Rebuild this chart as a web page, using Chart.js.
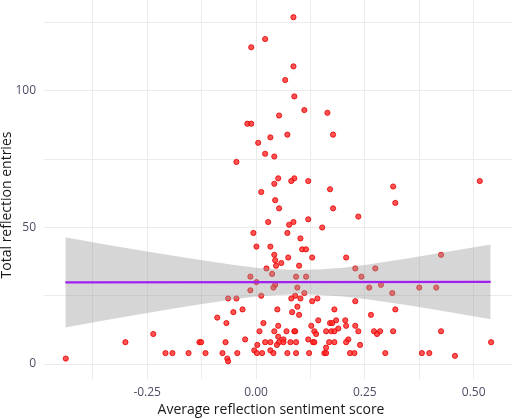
<!DOCTYPE html>
<html>
<head>
<meta charset="utf-8">
<script src="https://cdn.jsdelivr.net/npm/chart.js@4"></script>
<style>
    html, body { margin: 0; padding: 0; background: #fff; }
    #wrap { width: 512px; height: 419px; }
</style>
</head>
<body>
<div id="wrap"><canvas id="chart" width="512" height="419"></canvas></div>
<script>
// Scatter points: average sentiment score (x) and total entries (y)
const sentiment = [
    0.086, 0.021, -0.011, 0.086, 0.067, 0.088, 0.111, 0.053, 0.164, -0.020,
    -0.011, 0.033, 0.072, 0.177, 0.005, -0.045, 0.021, 0.042, 0.051, 0.088,
    0.081, 0.120, 0.042, 0.012, 0.170, 0.315, 0.514, 0.044, 0.320, 0.053,
    0.177, 0.028, 0.086, 0.076, 0.120, 0.152, 0.235, -0.006, 0.072, 0.102,
    0.001, 0.033, 0.106, 0.115, 0.042, 0.074, 0.129, 0.207, 0.044, 0.058,
    0.046, 0.099, 0.024, 0.228, 0.274, 0.425, -0.013, 0.037, 0.092, 0.115,
    0.242, 0.001, 0.044, 0.040, 0.095, 0.260, 0.287, 0.375, 0.414, -0.013,
    0.012, 0.090, 0.111, 0.313, -0.064, -0.045, 0.081, 0.102, 0.141, 0.129,
    0.228, 0.095, -0.031, 0.049, 0.180, 0.320, -0.052, 0.083, 0.099, 0.264,
    -0.089, 0.143, 0.184, 0.205, -0.068, 0.017, 0.170, 0.175, 0.051, 0.127,
    0.207, 0.228, 0.189, 0.008, 0.042, 0.070, 0.088, 0.090, 0.134, 0.161,
    0.173, 0.180, 0.235, 0.271, 0.285, 0.315, 0.425, -0.236, 0.138, 0.278,
    0.051, -0.025, 0.063, 0.120, 0.212, -0.300, -0.130, -0.126, -0.070, 0.021,
    0.033, 0.053, 0.063, 0.079, 0.092, 0.131, 0.134, 0.168, 0.180, 0.207,
    0.540, 0.003, 0.048, 0.239, 0.161, -0.004, 0.033, -0.437, -0.208, -0.192,
    -0.155, -0.116, -0.077, -0.043, 0.002, 0.014, 0.040, 0.072, 0.092, 0.122,
    0.157, 0.161, 0.216, 0.226, 0.297, 0.381, 0.398, 0.457, -0.066, -0.064
];
const entries = [
    127, 119, 116, 109, 104, 98, 93, 91, 92, 88,
    88, 83, 84, 84, 81, 74, 77, 76, 68, 68,
    67, 67, 66, 63, 64, 65, 67, 60, 59, 57,
    57, 52, 52, 51, 53, 50, 54, 48, 48, 46,
    43, 43, 42, 42, 40, 39, 39, 39, 38, 37,
    36, 36, 35, 35, 35, 40, 32, 33, 32, 32,
    32, 30, 29, 28, 28, 28, 29, 28, 28, 27,
    25, 25, 26, 26, 24, 24, 24, 24, 24, 23,
    23, 21, 20, 20, 20, 20, 19, 19, 18, 18,
    17, 16, 16, 16, 15, 15, 15, 15, 14, 14,
    14, 14, 13, 12, 12, 12, 12, 12, 12, 12,
    12, 12, 12, 12, 12, 12, 12, 11, 11, 11,
    10, 9, 9, 9, 9, 8, 8, 8, 8, 8,
    8, 8, 8, 8, 8, 8, 8, 8, 8, 8,
    8, 7, 7, 7, 6, 5, 5, 2, 4, 4,
    4, 4, 4, 4, 4, 4, 4, 4, 4, 4,
    4, 4, 4, 4, 4, 4, 4, 3, 2, 1
];

// Linear fit line (ends) and its confidence band
const fitX = [-0.438, 0.539];
const fitY = [29.9, 30.1];
const bandX = [-0.438, -0.35, -0.25, -0.15, -0.05, 0.0, 0.05, 0.10, 0.15, 0.20, 0.25, 0.35, 0.45, 0.539];
const bandUpper = [46.4, 43.9, 41.2, 38.6, 36.3, 35.3, 34.7, 34.4, 34.7, 35.3, 36.3, 38.7, 41.4, 43.8];
const bandLower = [13.4, 15.9, 18.7, 21.3, 23.7, 24.7, 25.3, 25.6, 25.3, 24.7, 23.8, 21.5, 18.9, 16.4];

// Axis ticks and titles
const xTicks = [-0.25, 0, 0.25, 0.5];
const xTickLabels = ['-0.25', '0.00', '0.25', '0.50'];
const xMinorTicks = [-0.375, -0.125, 0.125, 0.375];
const yTicks = [0, 50, 100];
const yTickLabels = ['0', '50', '100'];
const yMinorTicks = [25, 75, 125];
const xTitle = 'Average reflection sentiment score';
const yTitle = 'Total reflection entries';

const FONT = "'Open Sans', 'Noto Sans', sans-serif";
const GRID = '#ebebeb';
const TICK_COLOR = '#4d4d66';

function toPoints(xs, ys) {
    return xs.map((x, i) => ({ x: x, y: ys[i] }));
}

function tickSetter(major, minor) {
    return function (scale) {
        scale.ticks = major.concat(minor).sort((a, b) => a - b).map(v => ({ value: v }));
    };
}

function labelFor(major, labels) {
    return function (value) {
        const i = major.findIndex(v => Math.abs(v - value) < 1e-9);
        return i >= 0 ? labels[i] : '';
    };
}

// Axis titles sit a little off the panel centre in the original, so draw them by hand
const axisTitles = {
    id: 'axisTitles',
    afterDraw(chart) {
        const c = chart.ctx;
        c.save();
        c.fillStyle = '#1a1a1a';
        c.font = '14px ' + FONT;
        c.textAlign = 'center';
        c.textBaseline = 'middle';
        c.fillText(xTitle, 271, 410.5);
        c.translate(7.5, 205);
        c.rotate(-Math.PI / 2);
        c.fillText(yTitle, 0, 0);
        c.restore();
    }
};

const ctx = document.getElementById('chart').getContext('2d');
new Chart(ctx, {
    type: 'scatter',
    data: {
        datasets: [
            {
                label: 'upper',
                type: 'line',
                data: toPoints(bandX, bandUpper),
                borderWidth: 0,
                borderColor: 'rgba(0,0,0,0)',
                pointRadius: 0,
                pointHoverRadius: 0,
                fill: '+1',
                backgroundColor: 'rgba(153,153,153,0.4)',
                order: 1
            },
            {
                label: 'lower',
                type: 'line',
                data: toPoints(bandX, bandLower),
                borderWidth: 0,
                borderColor: 'rgba(0,0,0,0)',
                pointRadius: 0,
                pointHoverRadius: 0,
                fill: false,
                order: 1
            },
            {
                label: 'fit',
                type: 'line',
                data: toPoints(fitX, fitY),
                borderColor: '#a020f0',
                borderWidth: 2.4,
                pointRadius: 0,
                pointHoverRadius: 0,
                fill: false,
                order: 0
            },
            {
                label: 'reflections',
                data: toPoints(sentiment, entries),
                pointRadius: 2.6,
                pointBorderWidth: 0.8,
                pointBackgroundColor: 'rgba(255,40,40,0.8)',
                pointBorderColor: '#e60000',
                order: 2
            }
        ]
    },
    options: {
        responsive: false,
        animation: false,
        layout: { padding: 0, autoPadding: false },
        plugins: {
            legend: { display: false },
            tooltip: { enabled: false }
        },
        scales: {
            x: {
                type: 'linear',
                min: -0.487,
                max: 0.588,
                afterBuildTicks: tickSetter(xTicks, xMinorTicks),
                afterFit: function (scale) {
                    scale.height = 40.5;
                    scale.paddingLeft = 0;
                    scale.paddingRight = 0;
                },
                grid: { color: GRID, lineWidth: 1, drawTicks: false },
                border: { display: false },
                ticks: {
                    autoSkip: false,
                    maxRotation: 0,
                    padding: 7,
                    color: TICK_COLOR,
                    font: { family: FONT, size: 12 },
                    callback: labelFor(xTicks, xTickLabels)
                }
            },
            y: {
                type: 'linear',
                min: -5.3,
                max: 133.3,
                afterBuildTicks: tickSetter(yTicks, yMinorTicks),
                afterFit: function (scale) {
                    scale.width = 44;
                    scale.paddingTop = 0;
                    scale.paddingBottom = 0;
                },
                grid: { color: GRID, lineWidth: 1, drawTicks: false },
                border: { display: false },
                ticks: {
                    autoSkip: false,
                    padding: 8,
                    color: TICK_COLOR,
                    font: { family: FONT, size: 12 },
                    callback: labelFor(yTicks, yTickLabels)
                }
            }
        }
    },
    plugins: [axisTitles]
});
</script>
</body>
</html>
